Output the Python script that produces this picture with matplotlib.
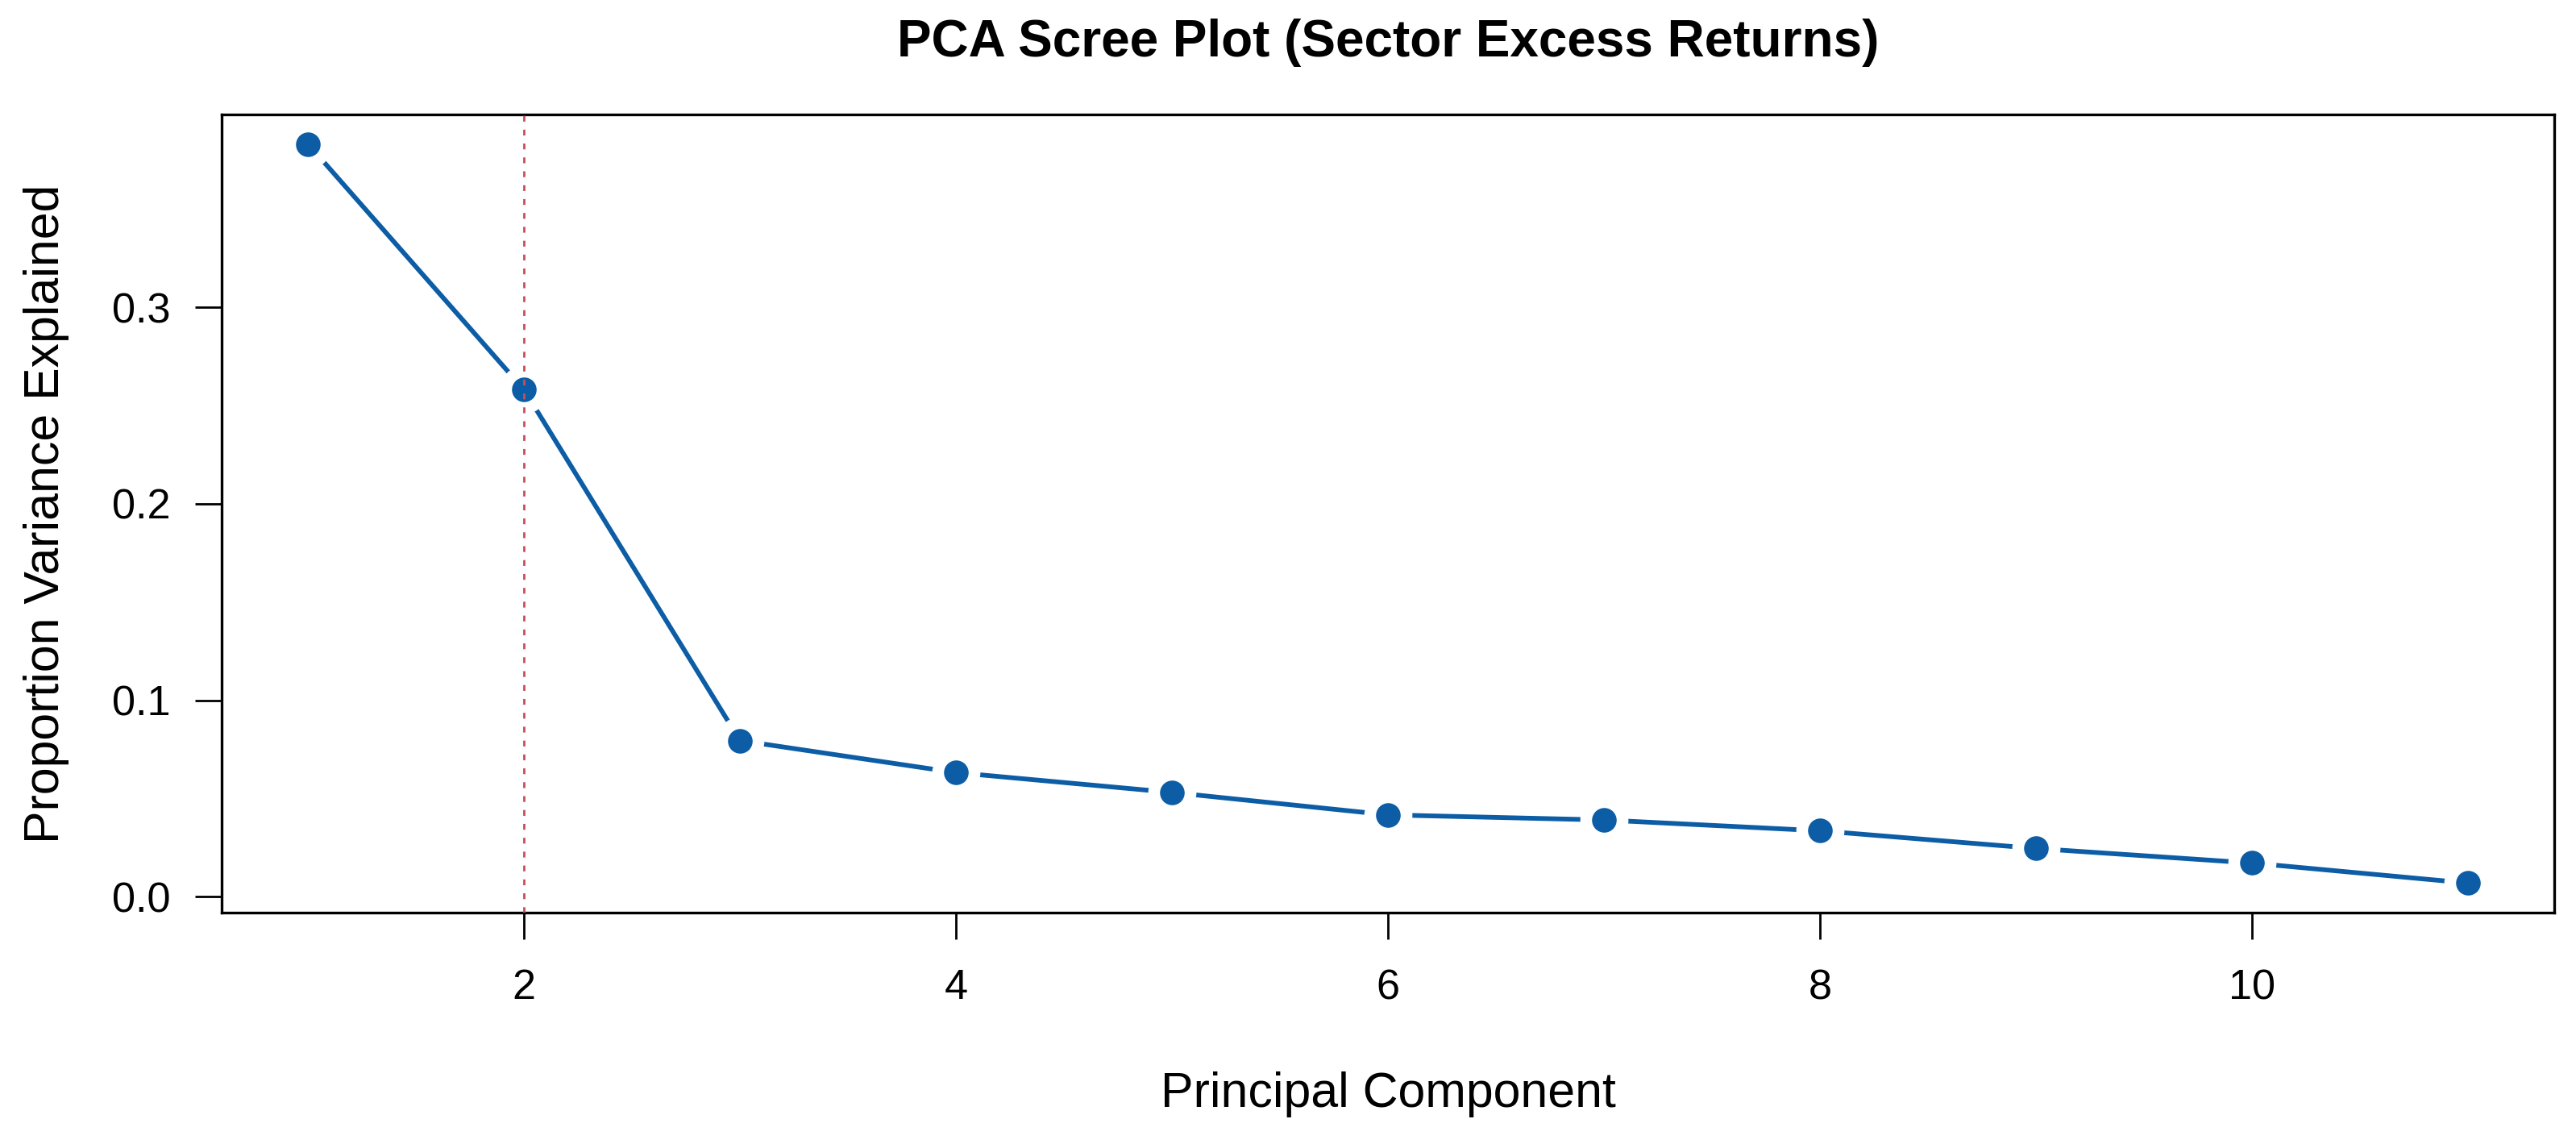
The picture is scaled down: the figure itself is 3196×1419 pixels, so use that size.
import matplotlib
matplotlib.use("Agg")
import matplotlib.pyplot as plt

plt.rcParams['font.family'] = ['Liberation Sans', 'DejaVu Sans']

components = [1, 2, 3, 4, 5, 6, 7, 8, 9, 10, 11]
variance_explained = [0.383, 0.258, 0.0795, 0.0632, 0.0531, 0.0417, 0.0391, 0.0336, 0.0246, 0.0172, 0.0070]
chosen_k = 2
x_ticks = [2, 4, 6, 8, 10]
y_ticks = [0.0, 0.1, 0.2, 0.3]
y_tick_labels = ["0.0", "0.1", "0.2", "0.3"]

title = "PCA Scree Plot (Sector Excess Returns)"
xlabel = "Principal Component"
ylabel = "Proportion Variance Explained"

W, H, DPI = 3196, 1419, 200
fig = plt.figure(figsize=(W / DPI, H / DPI), dpi=DPI)
ax = fig.add_axes([275 / W, 1 - 1132 / H, (3169 - 275) / W, (1132 - 142) / H])

blue = '#0C5DA5'
ax.plot(components, variance_explained, color=blue, lw=2.1, zorder=2, solid_capstyle='butt')
ax.plot(components, variance_explained, ls='none', marker='o', ms=21.5,
        mfc='white', mec='none', zorder=3)
ax.plot(components, variance_explained, ls='none', marker='o', ms=11.0,
        mfc=blue, mec='none', zorder=4)
ax.axvline(chosen_k, color='#C4505C', lw=1.0, ls=(0, (2.6, 3.6)), zorder=5)

ax.set_xlim(0.6, 11.4)
lo, hi = min(variance_explained), max(variance_explained)
pad = 0.04 * (hi - lo)
ax.set_ylim(lo - pad, hi + pad)

ax.set_xticks(x_ticks)
ax.set_xticklabels([str(t) for t in x_ticks])
ax.set_yticks(y_ticks)
ax.set_yticklabels(y_tick_labels)

for s in ax.spines.values():
    s.set_linewidth(1.2)
    s.set_color('black')
ax.tick_params(axis='both', length=11.9, width=1.0, color='black', labelsize=18.8)
ax.tick_params(axis='x', pad=13)
ax.tick_params(axis='y', pad=11)

cx = (275 + 3169) / 2 / W
fig.text(cx, 1 - 70 / H, title, ha='center', va='baseline', fontsize=23.0, fontweight='bold')
fig.text(cx, 1 - 1373 / H, xlabel, ha='center', va='baseline', fontsize=21.9)
fig.text(86 / W, 1 - 637 / H, ylabel, ha='right', va='center', rotation=90, fontsize=21.9)

fig.savefig('out.png', dpi=DPI, facecolor='white')
